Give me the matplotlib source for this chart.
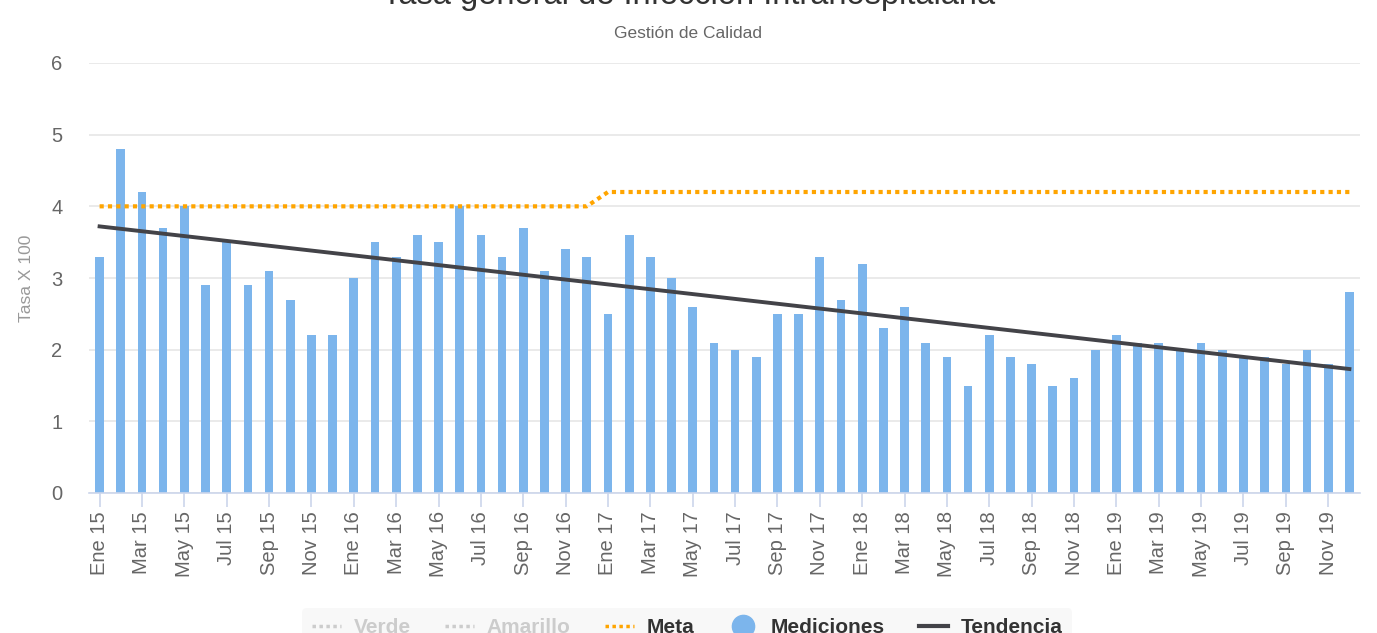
import numpy as np
import matplotlib
matplotlib.use("Agg")
from matplotlib import pyplot as plt
from matplotlib.lines import Line2D

plt.rcParams["font.family"] = ["Liberation Sans", "DejaVu Sans"]

meses = ["Ene", "Feb", "Mar", "Abr", "May", "Jun", "Jul", "Ago", "Sep", "Oct", "Nov", "Dic"]
anios = ["15", "16", "17", "18", "19"]
categorias = [f"{m} {a}" for a in anios for m in meses]

mediciones = [
    3.3, 4.8, 4.2, 3.7, 4.0, 2.9, 3.5, 2.9, 3.1, 2.7, 2.2, 2.2,
    3.0, 3.5, 3.3, 3.6, 3.5, 4.0, 3.6, 3.3, 3.7, 3.1, 3.4, 3.3,
    2.5, 3.6, 3.3, 3.0, 2.6, 2.1, 2.0, 1.9, 2.5, 2.5, 3.3, 2.7,
    3.2, 2.3, 2.6, 2.1, 1.9, 1.5, 2.2, 1.9, 1.8, 1.5, 1.6, 2.0,
    2.2, 2.1, 2.1, 2.0, 2.1, 2.0, 1.9, 1.9, 1.8, 2.0, 1.8, 2.8,
]
meta = [4.0] * 24 + [4.2] * 36
tendencia_inicio_fin = [3.72, 1.73]

W, H = 1377, 633
fig = plt.figure(figsize=(W / 100, H / 100), dpi=100)
ax = fig.add_axes([89 / W, 1 - 493 / H, (1360 - 89) / W, (493 - 63) / H])

x = np.arange(len(categorias))
ax.bar(x, mediciones, width=0.41, color="#7cb5ec", zorder=2)
ax.plot(x, meta, color="#ffa500", linewidth=3, linestyle=(0, (1, 1)), zorder=3)
ax.plot([x[0], x[-1]], tendencia_inicio_fin, color="#434348", linewidth=2.8, zorder=4)

ax.set_xlim(-0.5, len(categorias) - 0.5)
ax.set_ylim(0, 6)
ax.set_yticks(range(7))
ax.grid(axis="y", color="#e6e6e6", linewidth=1.2, zorder=0)
ax.set_axisbelow(True)
for side in ["top", "right", "left"]:
    ax.spines[side].set_visible(False)
ax.spines["bottom"].set_color("#ccd6eb")
ax.spines["bottom"].set_linewidth(1.2)

ax.set_xticks(x[::2])
ax.set_xticklabels(categorias[::2], rotation=90, fontsize=14.5, color="#666666")
ax.tick_params(axis="x", length=10, width=1.2, color="#ccd6eb", pad=3)
ax.tick_params(axis="y", length=0, pad=19, labelsize=14.5, labelcolor="#666666")
fig.text(27 / W, 1 - 278 / H, "Tasa X 100", rotation=90, ha="center", va="center",
         fontsize=12.5, color="#999999")

fig.text(0.5, 1 - 4 / H, "Tasa general de Infección Intrahospitalaria",
         ha="center", va="baseline", fontsize=23.5, color="#333333")
fig.text(0.5, 1 - 34 / H, "Gestión de Calidad", ha="center", va="center",
         fontsize=12.5, color="#666666")

handles = [
    Line2D([], [], color="#cccccc", linewidth=2.5, linestyle=(0, (1, 1))),
    Line2D([], [], color="#cccccc", linewidth=2.5, linestyle=(0, (1, 1))),
    Line2D([], [], color="#ffa500", linewidth=2.5, linestyle=(0, (1, 1))),
    Line2D([], [], color="#7cb5ec", marker="o", markersize=16, linestyle="none"),
    Line2D([], [], color="#434348", linewidth=3),
]
labels = ["Verde", "Amarillo", "Meta", "Mediciones", "Tendencia"]
leg = fig.legend(handles, labels, loc="upper center", bbox_to_anchor=(0.499, 1 - 598 / H),
                 ncol=5, frameon=True, fontsize=15, handlelength=1.4,
                 handletextpad=0.6, columnspacing=1.65, borderpad=0.45)
leg.get_frame().set_facecolor("#f7f7f7")
leg.get_frame().set_edgecolor("none")
text_colors = ["#cccccc", "#cccccc", "#333333", "#333333", "#333333"]
for t, c in zip(leg.get_texts(), text_colors):
    t.set_color(c)
    t.set_fontweight("bold")

fig.savefig("out.png", dpi=100)
